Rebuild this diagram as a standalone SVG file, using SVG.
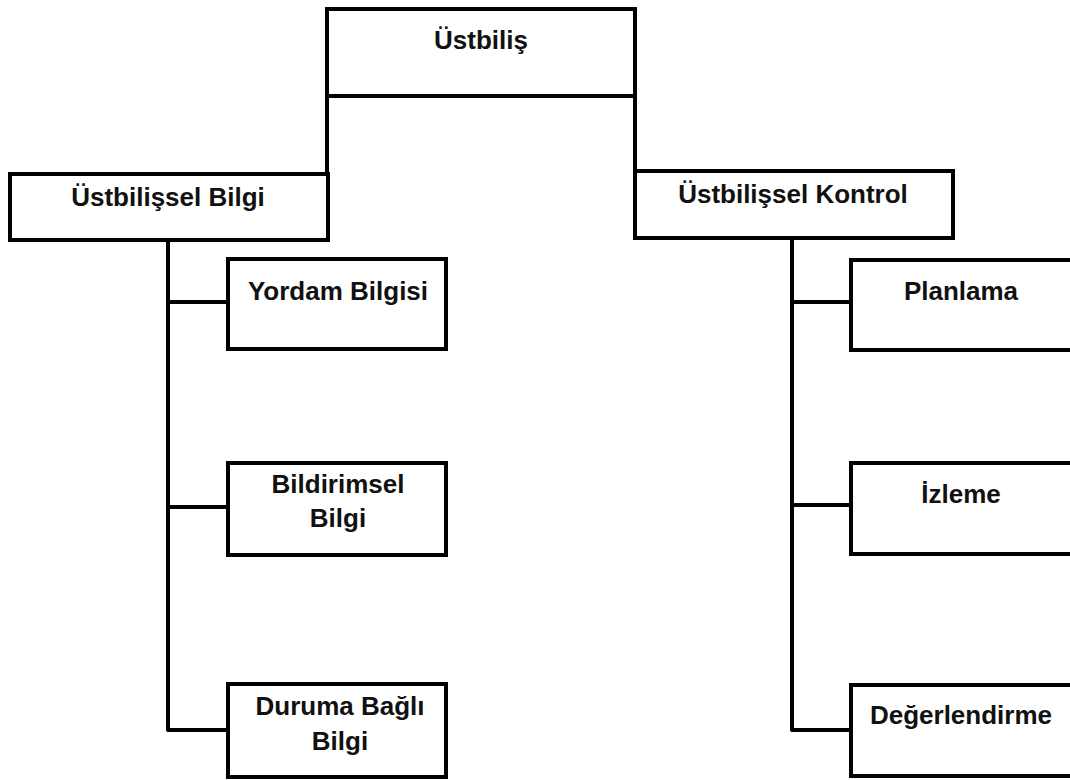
<svg xmlns="http://www.w3.org/2000/svg" width="1070" height="780" viewBox="0 0 1070 780">
  <style>
    .box { fill: #ffffff; stroke: #000000; stroke-width: 4; stroke-linejoin: miter; }
    .link { fill: none; stroke: #000000; stroke-width: 4; stroke-linejoin: round; stroke-linecap: butt; }
    .label { font-family: "Liberation Sans", Arial, sans-serif; font-weight: bold; font-size: 26px; fill: #111111; text-anchor: middle; }
  </style>
  <rect width="1070" height="780" fill="#ffffff"/>

  <!-- connectors -->
  <g id="connectors">
    <path class="link" d="M327,96 V174"/>
    <path class="link" d="M635,96 V171"/>
    <path class="link" d="M168,240 V730 H228"/>
    <path class="link" d="M168,302 H228"/>
    <path class="link" d="M168,507 H228"/>
    <path class="link" d="M792,238 V730 H851"/>
    <path class="link" d="M792,302 H851"/>
    <path class="link" d="M792,505 H851"/>
  </g>

  <!-- root -->
  <g id="ustbilis">
    <rect class="box" x="327" y="9" width="308" height="87"/>
    <text class="label" x="481" y="49">Üstbiliş</text>
  </g>

  <!-- second level -->
  <g id="ustbilissel-bilgi">
    <rect class="box" x="10" y="174" width="318" height="66"/>
    <text class="label" x="168" y="206">Üstbilişsel Bilgi</text>
  </g>
  <g id="ustbilissel-kontrol">
    <rect class="box" x="635" y="171" width="318" height="67"/>
    <text class="label" x="793" y="203">Üstbilişsel Kontrol</text>
  </g>

  <!-- knowledge branch -->
  <g id="yordam-bilgisi">
    <rect class="box" x="228" y="259" width="218" height="90"/>
    <text class="label" x="338" y="300">Yordam Bilgisi</text>
  </g>
  <g id="bildirimsel-bilgi">
    <rect class="box" x="228" y="463" width="218" height="92"/>
    <text class="label" x="338" y="493">Bildirimsel</text>
    <text class="label" x="338" y="527">Bilgi</text>
  </g>
  <g id="duruma-bagli-bilgi">
    <rect class="box" x="228" y="684" width="218" height="93"/>
    <text class="label" x="340" y="715">Duruma Bağlı</text>
    <text class="label" x="340" y="750">Bilgi</text>
  </g>

  <!-- control branch: boxes run past the right edge of the sheet -->
  <g id="planlama">
    <rect class="box" x="851" y="260" width="225" height="90"/>
    <text class="label" x="961" y="300">Planlama</text>
  </g>
  <g id="izleme">
    <rect class="box" x="851" y="463" width="225" height="91"/>
    <text class="label" x="961" y="503">İzleme</text>
  </g>
  <g id="degerlendirme">
    <rect class="box" x="851" y="685" width="225" height="91"/>
    <text class="label" x="961" y="724">Değerlendirme</text>
  </g>
</svg>
